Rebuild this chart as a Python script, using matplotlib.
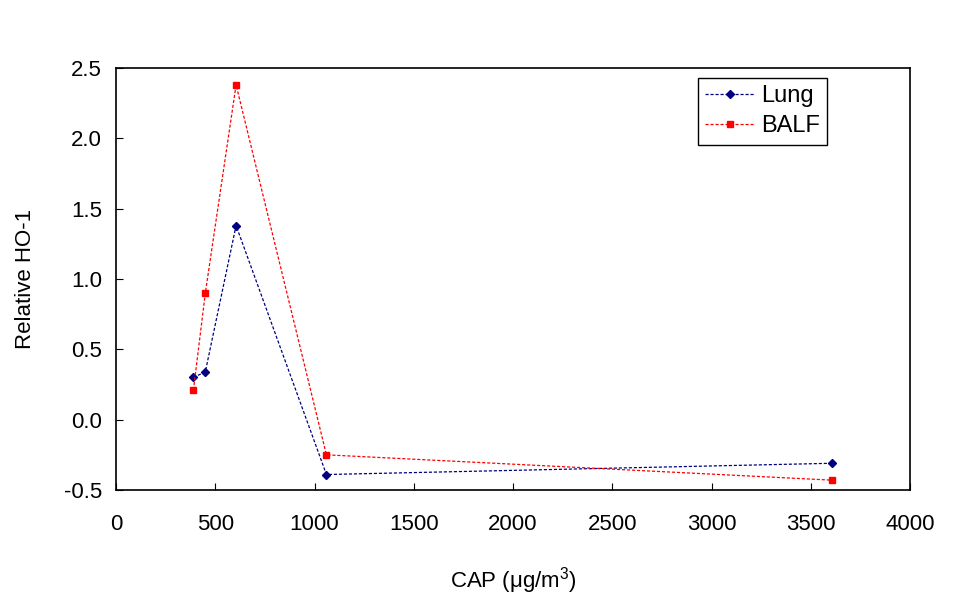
import numpy as np
import matplotlib.pyplot as plt

plt.rcParams['font.family'] = ['Liberation Sans', 'DejaVu Sans']
plt.rcParams['mathtext.fontset'] = 'custom'
plt.rcParams['mathtext.rm'] = 'Liberation Sans'

# CAP concentration (ug/m3)
cap = [390, 450, 605, 1060, 3607]
lung = [0.30, 0.34, 1.38, -0.39, -0.31]
balf = [0.21, 0.90, 2.38, -0.25, -0.43]

fig = plt.figure(figsize=(9.77, 6), dpi=100)
ax = fig.add_axes([116/977, 1 - 490/600, (910-116)/977, (490-68)/600])

ax.plot(cap, lung, ls=(0, (2.5, 1.5)), lw=0.9, c='#000080', marker='D', ms=4, label='Lung')
ax.plot(cap, balf, ls=(0, (2.5, 1.5)), lw=0.9, c='#ff0000', marker='s', ms=5, label='BALF')

ax.set_xlim(0, 4000)
ax.set_ylim(-0.5, 2.5)
ax.set_xticks(np.arange(0, 4001, 500))
ax.set_yticks(np.arange(-0.5, 2.51, 0.5))
ax.set_yticklabels(['%.1f' % v for v in np.arange(-0.5, 2.51, 0.5)])
ax.tick_params(direction='in', labelsize=16, length=5)
ax.tick_params(axis='x', pad=17)
ax.tick_params(axis='y', pad=10)
for s in ax.spines.values():
    s.set_linewidth(1.2)

ax.set_xlabel('CAP (\u03bcg/m$\\mathrm{^3}$)', fontsize=16, labelpad=22)
ax.set_ylabel('Relative HO-1', fontsize=16, labelpad=20)

leg = ax.legend(loc='upper right', bbox_to_anchor=(0.896, 0.976), fontsize=17,
                fancybox=False, edgecolor='black', framealpha=1,
                handlelength=2.1, borderpad=0.3, labelspacing=0.35, handletextpad=0.3,
                borderaxespad=0)
leg.get_frame().set_linewidth(1.0)

fig.savefig('out.png', dpi=100)
